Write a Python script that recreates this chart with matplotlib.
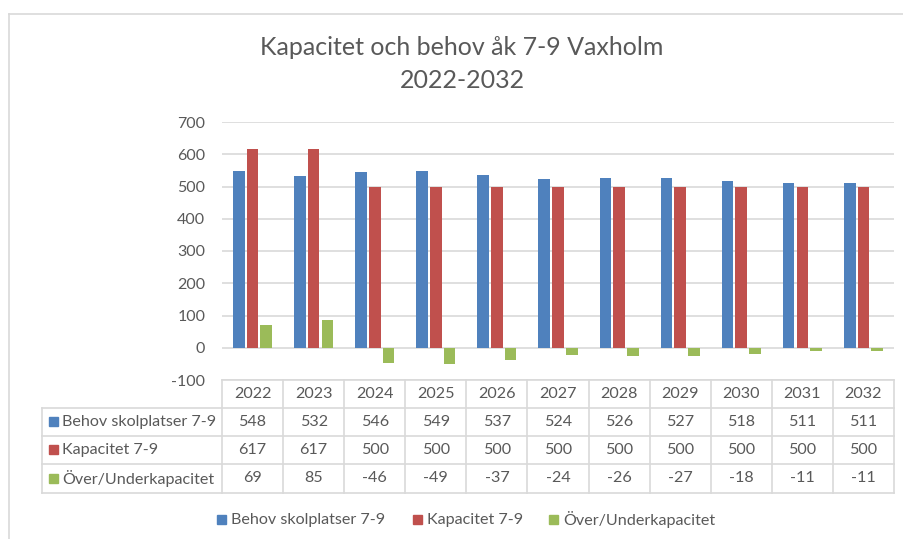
import matplotlib
matplotlib.use("Agg")
import matplotlib.pyplot as plt
from matplotlib.patches import Rectangle
from matplotlib.lines import Line2D

years = ["2022", "2023", "2024", "2025", "2026", "2027", "2028", "2029", "2030", "2031", "2032"]
series_names = ["Behov skolplatser 7-9", "Kapacitet 7-9", "Över/Underkapacitet"]
behov = [548, 532, 546, 549, 537, 524, 526, 527, 518, 511, 511]
kapacitet = [617, 617, 500, 500, 500, 500, 500, 500, 500, 500, 500]
over_under = [69, 85, -46, -49, -37, -24, -26, -27, -18, -11, -11]
colors = ["#4F81BD", "#C0504D", "#9BBB59"]
yticks = [-100, 0, 100, 200, 300, 400, 500, 600, 700]
title = "Kapacitet och behov åk 7-9 Vaxholm\n2022-2032"

plt.rcParams['font.family'] = ['Lato', 'DejaVu Sans']
TXT = "#595959"
GRID = "#D9D9D9"

W, H = 904, 539
fig = plt.figure(figsize=(W / 100, H / 100), dpi=100)

def fx(px):
    return px / W

def fy(py):
    return 1 - py / H

# chart border (top and left visible)
fig.add_artist(Line2D([fx(9), fx(904)], [fy(14), fy(14)], color=GRID, lw=1.2))
fig.add_artist(Line2D([fx(9), fx(9)], [fy(14), fy(539)], color=GRID, lw=1.2))

fig.text(fx(462), fy(64), title, ha="center", va="center", fontsize=18,
         color=TXT, linespacing=1.5)

# plot area
px_left, px_right, px_top, px_bot = 222, 894, 122, 380
ax = fig.add_axes([fx(px_left), fy(px_bot), fx(px_right - px_left), (px_bot - px_top) / H])
ax.set_xlim(-0.5, len(years) - 0.5)
ax.set_ylim(-100, 700)
ax.set_yticks(yticks)
ax.set_yticklabels([str(v) for v in yticks])
ax.tick_params(axis="y", length=0, pad=12, labelsize=11.5, labelcolor=TXT)
ax.set_xticks([])
for s in ax.spines.values():
    s.set_visible(False)
ax.grid(axis="y", color=GRID, lw=1.2)
ax.set_axisbelow(True)

bw = 0.19
offs = [-0.225, 0.0, 0.225]
data = [behov, kapacitet, over_under]
for d, o, c in zip(data, offs, colors):
    ax.bar([i + o for i in range(len(years))], d, width=bw, color=c, zorder=3)

# data table
col_w = (px_right - px_left) / len(years)
label_left = 42
row_edges = [380, 408, 436, 464, 493]
tbl_lw = 1.2
fig.add_artist(Line2D([fx(px_left), fx(px_right)], [fy(row_edges[0])] * 2, color=GRID, lw=tbl_lw))
for yy in row_edges[1:]:
    fig.add_artist(Line2D([fx(label_left), fx(px_right)], [fy(yy)] * 2, color=GRID, lw=tbl_lw))
for i in range(len(years) + 1):
    xx = px_left + i * col_w
    fig.add_artist(Line2D([fx(xx)] * 2, [fy(row_edges[0]), fy(row_edges[-1])], color=GRID, lw=tbl_lw))
fig.add_artist(Line2D([fx(label_left)] * 2, [fy(row_edges[1]), fy(row_edges[-1])], color=GRID, lw=tbl_lw))

fs_tbl = 11.6
for i, yr in enumerate(years):
    cx = px_left + (i + 0.5) * col_w
    fig.text(fx(cx), fy((row_edges[0] + row_edges[1]) / 2), yr, ha="center", va="center",
             fontsize=fs_tbl, color=TXT)
for r, (name, d, c) in enumerate(zip(series_names, data, colors)):
    cy = (row_edges[r + 1] + row_edges[r + 2]) / 2
    fig.add_artist(Rectangle((fx(49), fy(cy + 4)), fx(9), 9 / H, color=c))
    fig.text(fx(62), fy(cy), name, ha="left", va="center", fontsize=fs_tbl, color=TXT)
    for i, v in enumerate(d):
        cx = px_left + (i + 0.5) * col_w
        fig.text(fx(cx), fy(cy), str(v), ha="center", va="center", fontsize=fs_tbl, color=TXT)

# legend
leg_items = [(217, series_names[0]), (413, series_names[1]), (549, series_names[2])]
ly = 520
for (x0, name), c in zip(leg_items, colors):
    fig.add_artist(Rectangle((fx(x0), fy(ly + 4)), fx(9), 9 / H, color=c))
    fig.text(fx(x0 + 14), fy(ly), name, ha="left", va="center", fontsize=fs_tbl, color=TXT)

fig.savefig("out.png", dpi=100, facecolor="white")
